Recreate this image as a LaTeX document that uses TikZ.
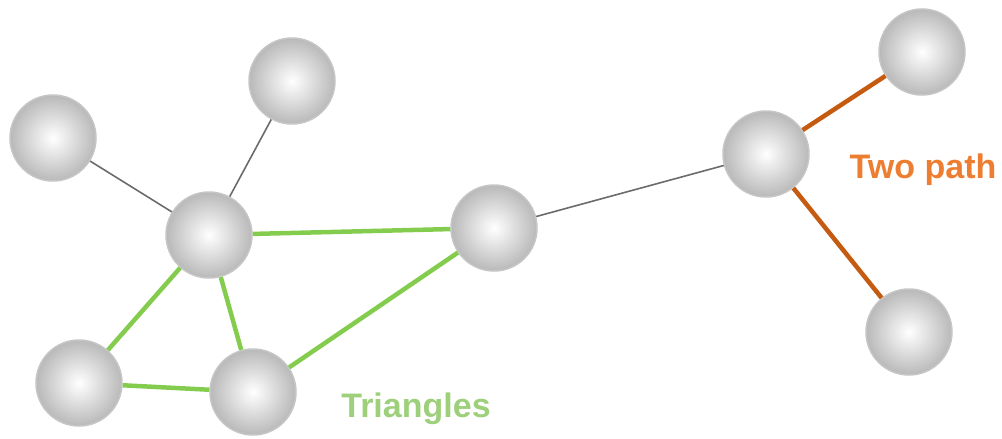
\documentclass[tikz,border=0pt]{standalone}
\usepackage{fontspec}
\setmainfont{Liberation Sans}
\definecolor{grn}{HTML}{84CC4E}
\definecolor{grntxt}{HTML}{9ED07C}
\definecolor{org}{HTML}{C55A11}
\definecolor{orgtxt}{HTML}{ED7D31}
\definecolor{edgegray}{HTML}{6B6B6B}
\tikzset{
  ball/.style={circle, minimum size=86pt, inner sep=0pt, draw=gray!45, line width=1.5pt,
    inner color=white, outer color=gray!55},
  plain/.style={draw=edgegray, line width=1.6pt},
  tri/.style={draw=grn, line width=4.5pt},
  two/.style={draw=org, line width=4.5pt},
  lbl/.style={font=\fontsize{34pt}{38pt}\selectfont\bfseries}
}
\begin{document}
\begin{tikzpicture}[x=1pt,y=-1pt]
\useasboundingbox (0,0) rectangle (1002,439);
\node[ball] (a) at (53,138) {};
\node[ball] (b) at (292,81) {};
\node[ball] (c) at (209,235) {};
\node[ball] (d) at (494,228) {};
\node[ball] (e) at (766,154) {};
\node[ball] (f) at (922,52) {};
\node[ball] (g) at (909,332) {};
\node[ball] (h) at (79,383) {};
\node[ball] (i) at (253,392) {};
\path[plain] (a) -- (c);
\path[plain] (b) -- (c);
\path[plain] (d) -- (e);
\path[tri] (c) -- (d);
\path[tri] (c) -- (h);
\path[tri] (c) -- (i);
\path[tri] (h) -- (i);
\path[tri] (i) -- (d);
\path[two] (e) -- (f);
\path[two] (e) -- (g);
\node[lbl, text=grntxt] (t1) at (416,409) {Triangles};
\node[lbl, text=orgtxt] (t2) at (923,170) {Two path};
\end{tikzpicture}
\end{document}
